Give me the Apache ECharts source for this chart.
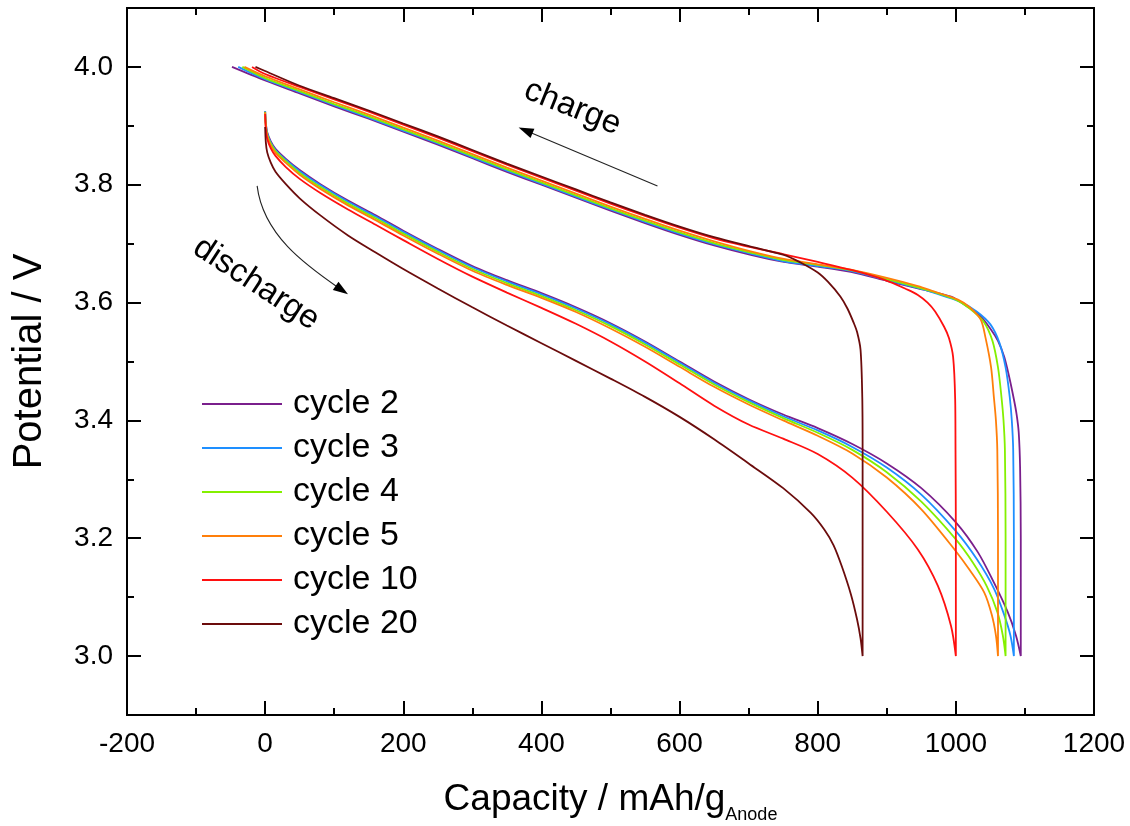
<!DOCTYPE html>
<html>
<head>
<meta charset="utf-8">
<script src="https://cdn.jsdelivr.net/npm/echarts@6/dist/echarts.min.js"></script>
<style>
html,body{margin:0;padding:0;background:#fff;}
#c{width:1130px;height:826px;}
</style>
</head>
<body>
<div id="c"></div>
<script>
// ---- data (capacity mAh/g, potential V) ----
const seriesNames = ['cycle 2','cycle 3','cycle 4','cycle 5','cycle 10','cycle 20'];
const seriesColors = ['#7a1f8c','#1e8fff','#84f000','#ff7f0a','#ff1010','#6b0c0c'];

const cycle2Discharge = [[0,3.925],[1,3.905],[3,3.889],[8,3.874],[15,3.861],[30,3.844],[50,3.825],[80,3.801],[120,3.773],[160,3.748],[200,3.722],[250,3.691],[300,3.662],[350,3.638],[400,3.616],[450,3.592],[500,3.565],[550,3.534],[600,3.500],[650,3.466],[700,3.436],[750,3.410],[800,3.387],[850,3.360],[900,3.327],[950,3.285],[1000,3.227],[1032,3.176],[1055,3.125],[1075,3.075],[1087,3.035],[1094,3.0]];
const cycle3Discharge = [[0,3.925],[1,3.903],[3,3.887],[8,3.872],[15,3.859],[30,3.842],[50,3.823],[80,3.799],[120,3.771],[160,3.746],[200,3.720],[250,3.689],[300,3.660],[350,3.636],[400,3.614],[450,3.590],[500,3.563],[550,3.532],[600,3.498],[650,3.464],[700,3.434],[750,3.407],[800,3.383],[850,3.355],[900,3.320],[950,3.274],[1000,3.212],[1030,3.165],[1055,3.115],[1070,3.07],[1079,3.035],[1084,3.0]];
const cycle4Discharge = [[0,3.924],[1,3.901],[3,3.885],[8,3.870],[15,3.857],[30,3.840],[50,3.820],[80,3.796],[120,3.768],[160,3.743],[200,3.717],[250,3.686],[300,3.657],[350,3.633],[400,3.611],[450,3.587],[500,3.560],[550,3.529],[600,3.495],[650,3.461],[700,3.431],[750,3.404],[800,3.379],[850,3.350],[900,3.312],[950,3.262],[1000,3.198],[1025,3.158],[1045,3.118],[1060,3.075],[1068,3.035],[1072,3.0]];
const cycle5Discharge = [[0,3.923],[1,3.899],[3,3.883],[8,3.867],[15,3.854],[30,3.837],[50,3.817],[80,3.793],[120,3.765],[160,3.740],[200,3.714],[250,3.683],[300,3.654],[350,3.630],[400,3.608],[450,3.584],[500,3.556],[550,3.525],[600,3.491],[650,3.457],[700,3.427],[750,3.400],[800,3.374],[850,3.344],[900,3.303],[950,3.249],[1000,3.178],[1020,3.146],[1041,3.108],[1052,3.07],[1058,3.035],[1061,3.0]];
const cycle10Discharge = [[0,3.92],[1,3.895],[3,3.878],[8,3.862],[15,3.849],[30,3.830],[50,3.810],[80,3.786],[120,3.758],[160,3.732],[200,3.706],[250,3.674],[300,3.644],[350,3.617],[400,3.591],[450,3.564],[500,3.534],[550,3.500],[600,3.463],[650,3.425],[700,3.393],[750,3.369],[800,3.343],[850,3.303],[900,3.245],[945,3.181],[974,3.119],[993,3.051],[1000,3.0]];
const cycle20Discharge = [[0,3.898],[1,3.872],[3,3.855],[8,3.838],[15,3.822],[30,3.801],[50,3.777],[80,3.748],[120,3.714],[160,3.685],[200,3.657],[250,3.624],[300,3.592],[350,3.561],[400,3.531],[450,3.501],[500,3.471],[550,3.440],[600,3.406],[650,3.368],[700,3.327],[750,3.285],[790,3.243],[810,3.214],[823,3.188],[835,3.152],[848,3.105],[857,3.062],[862,3.03],[865,3.0]];

const cycle2Charge = [[1094,3.0],[1094,3.2],[1093,3.32],[1091,3.38],[1088,3.41],[1084,3.436],[1077,3.475],[1070,3.508],[1061,3.535],[1051,3.554],[1035,3.578],[1017,3.593],[993,3.61],[945,3.624],[900,3.637],[848,3.652],[800,3.661],[751,3.669],[703,3.681],[650,3.697],[600,3.715],[550,3.735],[500,3.756],[450,3.778],[400,3.800],[350,3.822],[300,3.845],[250,3.868],[200,3.89],[150,3.912],[100,3.933],[50,3.955],[0,3.977],[-48,4.0]];
const cycle3Charge = [[1084,3.0],[1084,3.2],[1083,3.35],[1081,3.40],[1078,3.44],[1072,3.49],[1063,3.532],[1050,3.563],[1030,3.585],[1005,3.602],[970,3.616],[945,3.625],[900,3.638],[848,3.654],[800,3.662],[751,3.67],[703,3.683],[650,3.699],[600,3.717],[550,3.737],[500,3.758],[450,3.78],[400,3.802],[350,3.824],[300,3.847],[250,3.87],[200,3.892],[150,3.914],[100,3.935],[50,3.957],[0,3.979],[-39,4.0]];
const cycle4Charge = [[1072,3.0],[1072,3.2],[1071,3.35],[1069,3.40],[1066,3.44],[1061,3.49],[1053,3.535],[1040,3.568],[1020,3.59],[1000,3.605],[968,3.618],[945,3.626],[900,3.64],[848,3.655],[800,3.664],[751,3.672],[703,3.685],[650,3.701],[600,3.719],[550,3.739],[500,3.76],[450,3.782],[400,3.804],[350,3.826],[300,3.849],[250,3.872],[200,3.894],[150,3.916],[100,3.937],[50,3.959],[0,3.981],[-33,4.0]];
const cycle5Charge = [[1061,3.0],[1061,3.2],[1060,3.35],[1058,3.40],[1055,3.44],[1051,3.49],[1043,3.54],[1036,3.571],[1020,3.592],[1003,3.605],[968,3.619],[945,3.628],[900,3.642],[848,3.656],[800,3.665],[751,3.674],[703,3.687],[650,3.704],[600,3.722],[550,3.742],[500,3.763],[450,3.785],[400,3.807],[350,3.829],[300,3.852],[250,3.875],[200,3.897],[150,3.919],[100,3.94],[50,3.962],[0,3.984],[-30,4.0]];
const cycle10Charge = [[1000,3.0],[1000,3.2],[999.5,3.35],[999,3.436],[996,3.508],[990,3.54],[983,3.559],[970,3.585],[959,3.6],[945,3.613],[930,3.622],[896,3.639],[850,3.655],[800,3.669],[751,3.682],[703,3.694],[650,3.709],[600,3.727],[550,3.747],[500,3.768],[450,3.79],[400,3.812],[350,3.834],[300,3.857],[250,3.88],[200,3.902],[150,3.924],[100,3.945],[50,3.966],[0,3.988],[-19,4.0]];
const cycle20Charge = [[865,3.0],[865,3.2],[865,3.35],[864.5,3.44],[862,3.52],[857,3.55],[852,3.566],[843,3.59],[833,3.61],[815,3.635],[800,3.651],[775,3.668],[751,3.681],[703,3.695],[650,3.711],[600,3.729],[550,3.749],[500,3.77],[450,3.792],[400,3.814],[350,3.836],[300,3.859],[250,3.882],[200,3.904],[150,3.926],[100,3.947],[50,3.968],[0,3.993],[-14,4.0]];

const dischargeSets = [cycle2Discharge, cycle3Discharge, cycle4Discharge, cycle5Discharge, cycle10Discharge, cycle20Discharge];
const chargeSets = [cycle2Charge, cycle3Charge, cycle4Charge, cycle5Charge, cycle10Charge, cycle20Charge];

const xTickMin = -200, xTickMax = 1200, xTickStep = 200;
const yMajorTicks = [3.0, 3.2, 3.4, 3.6, 3.8, 4.0];
const yMinorTicks = [3.1, 3.3, 3.5, 3.7, 3.9];
const yMin = 2.9, yMax = 4.1;

// annotations in data coordinates
const chargeArrow = {from:[568,3.798], to:[367,3.897]};
const chargeLabel = {text:'charge', at:[445,3.931]};
const dischargeArrow = {start:[-11.6,3.798], cp1:[-2.9,3.715], cp2:[58,3.664], end:[120,3.614]};
const dischargeLabel = {text:'discharge', at:[-13,3.632]};

// ---- chart ----
const FONT = '"Liberation Sans", Arial, Helvetica, sans-serif';
const chart = echarts.init(document.getElementById('c'), null, {renderer:'canvas'});

const axisLineStyle = {color:'#000', width:2};
function xAxisDef(pos, labels){
  return {
    type:'value', position:pos, min:xTickMin, max:xTickMax, interval:xTickStep,
    axisLine:{show:true, onZero:false, lineStyle:axisLineStyle},
    axisTick:{show:true, inside:true, length:14, lineStyle:{color:'#000', width:2}},
    minorTick:{show:true, splitNumber:2, length:7, lineStyle:{color:'#000', width:2}},
    splitLine:{show:false}, minorSplitLine:{show:false},
    axisLabel:{show:labels, color:'#000', fontSize:28, fontFamily:FONT, margin:15,
      formatter:function(v){return String(Math.round(v));}},
    name: labels ? '{a|Capacity / mAh/g}{s|Anode}' : '',
    nameLocation:'middle', nameGap:65,
    nameTextStyle:{color:'#000', fontFamily:FONT,
      rich:{a:{fontSize:37, fontFamily:FONT, color:'#000', lineHeight:44, padding:[0,0,4,0]},
            s:{fontSize:18, fontFamily:FONT, color:'#000', lineHeight:18, verticalAlign:'bottom'}}}
  };
}
function yAxisDef(pos, ticks, len, labels, name){
  return {
    type:'value', position:pos, min:yMin, max:yMax,
    axisLine:{show:true, onZero:false, lineStyle:axisLineStyle},
    axisTick:{show:true, inside:true, length:len, customValues:ticks, lineStyle:{color:'#000', width:2}},
    splitLine:{show:false},
    axisLabel:{show:labels, customValues:ticks, color:'#000', fontSize:28, fontFamily:FONT, margin:14,
      formatter:function(v){return Number(v).toFixed(1);}},
    name: name || '', nameLocation:'middle', nameGap:77, nameRotate:90,
    nameTextStyle:{color:'#000', fontSize:40, fontFamily:FONT}
  };
}

const series = seriesNames.map(function(n,i){
  return {
    name:n, type:'line', xAxisIndex:0, yAxisIndex:0,
    data: dischargeSets[i].concat(chargeSets[i]),
    showSymbol:false, symbol:'none', smooth:0.3,
    lineStyle:{color:seriesColors[i], width:1.8},
    itemStyle:{color:seriesColors[i]},
    animation:false, z:2+i
  };
});

const option = {
  backgroundColor:'#fff',
  animation:false,
  grid:{left:127, right:36, top:8, bottom:111, containLabel:false, outerBoundsMode:'none'},
  xAxis:[xAxisDef('bottom', true), xAxisDef('top', false)],
  yAxis:[yAxisDef('left', yMajorTicks, 14, true, 'Potential / V'),
         yAxisDef('left', yMinorTicks, 7, false),
         yAxisDef('right', yMajorTicks, 14, false),
         yAxisDef('right', yMinorTicks, 7, false)],
  legend:{
    orient:'vertical', left:197, top:382, itemWidth:80, itemHeight:2, itemGap:10,
    icon:'rect',
    textStyle:{color:'#000', fontSize:34, fontFamily:FONT, padding:[0,0,0,6]},
    data:seriesNames
  },
  series:series
};
chart.setOption(option);

function P(p){ return chart.convertToPixel({gridIndex:0}, p); }
function arrowHead(tip, dir, len, half){
  const d = Math.hypot(dir[0],dir[1]); const ux = dir[0]/d, uy = dir[1]/d;
  const bx = tip[0]-ux*len, by = tip[1]-uy*len;
  return [[tip[0],tip[1]],[bx-uy*half, by+ux*half],[bx+uy*half, by-ux*half]];
}
const cf = P(chargeArrow.from), ct = P(chargeArrow.to);
const cdir = [ct[0]-cf[0], ct[1]-cf[1]];
const ds = P(dischargeArrow.start), dc1 = P(dischargeArrow.cp1), dc2 = P(dischargeArrow.cp2), de = P(dischargeArrow.end);
const ddir = [de[0]-dc2[0], de[1]-dc2[1]];
const cl = P(chargeLabel.at), dl = P(dischargeLabel.at);

chart.setOption({graphic:[
  {type:'line', shape:{x1:cf[0], y1:cf[1], x2:ct[0]-cdir[0]*0.05, y2:ct[1]-cdir[1]*0.05}, style:{stroke:'#222', lineWidth:1.1}, z:10},
  {type:'polygon', shape:{points:arrowHead(ct, cdir, 15, 5)}, style:{fill:'#000'}, z:10},
  {type:'bezierCurve', shape:{x1:ds[0], y1:ds[1], cpx1:dc1[0], cpy1:dc1[1], cpx2:dc2[0], cpy2:dc2[1], x2:de[0]-ddir[0]*0.2, y2:de[1]-ddir[1]*0.2}, style:{stroke:'#222', lineWidth:1.1, fill:null}, z:10},
  {type:'polygon', shape:{points:arrowHead(de, ddir, 15, 5)}, style:{fill:'#000'}, z:10},
  {type:'text', x:cl[0], y:cl[1], rotation:-0.38, style:{text:chargeLabel.text, fontSize:33, fontFamily:FONT, fill:'#000', align:'center', verticalAlign:'middle'}, z:10},
  {type:'text', x:dl[0], y:dl[1], rotation:-0.58, style:{text:dischargeLabel.text, fontSize:33, fontFamily:FONT, fill:'#000', align:'center', verticalAlign:'middle'}, z:10}
]});
</script>
</body>
</html>
